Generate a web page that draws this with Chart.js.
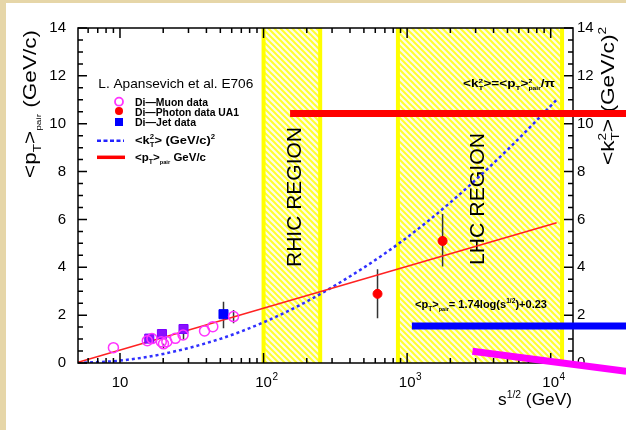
<!DOCTYPE html>
<html>
<head>
<meta charset="utf-8">
<script src="https://cdn.jsdelivr.net/npm/chart.js@4.4.1/dist/chart.umd.min.js"></script>
<style>
    html, body { margin: 0; padding: 0; background: #fff; }
    body { width: 626px; height: 430px; overflow: hidden; position: relative; }
    #ptChart { position: absolute; left: 0; top: 0; }
    .edge { position: absolute; background: #e6d6a8; }
    .edge.top { left: 0; top: 0; width: 626px; height: 3px; }
    .edge.left { left: 0; top: 0; width: 6px; height: 430px; }
</style>
</head>
<body>
<canvas id="ptChart" width="626" height="430"></canvas>
<div class="edge top"></div>
<div class="edge left"></div>
<script>
// Di-muon measurements: sqrt(s) in GeV and <pT> pair in GeV/c
const muonS = [9.0, 15.5, 16.7, 19.4, 20.1, 21.2, 24.3, 27.5, 38.8, 44.3, 61.8];
const muonPt = [0.64, 0.93, 1.02, 0.89, 0.80, 0.89, 1.03, 1.17, 1.34, 1.52, 1.94];
const muonErrLo = [null, null, null, null, 0.58, null, null, null, null, null, 1.66];
const muonErrHi = [null, null, null, null, 0.80, null, null, null, null, null, 2.22];

// Di-photon (UA1)
const photonS = [622, 1766];
const photonPt = [2.89, 5.10];
const photonErrLo = [1.87, 4.03];
const photonErrHi = [3.92, 6.23];

// Di-jet
const jetS = [16.0, 19.6, 27.7, 52.6];
const jetPt = [1.02, 1.21, 1.42, 2.04];
const jetErrLo = [0.90, 0.95, 0.98, 1.45];
const jetErrHi = [1.12, 1.32, 1.60, 2.56];

// <pT> pair fit line (straight in log s)
const fitS = [5.1, 11000];
const fitPt = [0.03, 5.86];

// <kT^2> curve, right axis
const kt2S = [5.1, 10, 20, 50, 100, 200, 500, 1000, 2000, 5000, 11000];
const kt2 = [0.0, 0.10, 0.38, 1.01, 1.70, 2.57, 3.99, 5.25, 6.71, 8.91, 11.0];

// collider energy ranges
const rhicRange = [100, 248];
const lhcRange = [863, 12000];

// x tick labels: 10^n
const xTickValues = [10, 100, 1000, 10000];
const xTickExps = ['', '2', '3', '4'];

// marker strokes laid over the figure
const redMarkS = [153, 40000], redMarkY = [10.43, 10.43];
const blueMarkS = [1079, 40000], blueMarkY = [1.55, 1.55];
const pinkMarkS = [2851, 33570], pinkMarkY = [0.49, -0.35];

const FONT = '"Liberation Sans", Arial, Helvetica, sans-serif';

const pts = (xs, ys) => xs.map((v, i) => ({ x: v, y: ys[i] }));

// text with sub/superscripts, optionally stretched to a given length
function drawRich(ctx, parts, o) {
    const font = (s) => `${o.weight || 'normal'} ${s}px ${FONT}`;
    const segs = [];
    let w = 0;
    parts.forEach(p => {
        if (typeof p === 'string') p = { t: p };
        const list = p.stack
            ? [{ t: p.stack[0], k: 'sup', sc: p.sc }, { t: p.stack[1], k: 'sub', sc: p.sc }]
            : [p];
        let adv = 0;
        list.forEach(q => {
            const s = q.k ? o.size * (q.sc || 0.6) : o.size;
            ctx.font = font(s);
            const dy = q.k === 'sup' ? -0.42 * o.size : q.k === 'sub' ? 0.28 * o.size : 0;
            segs.push({ t: q.t, s: s, x: w, dy: dy });
            adv = Math.max(adv, ctx.measureText(q.t).width);
        });
        w += adv;
    });
    const sx = o.len ? o.len / w : 1;
    ctx.save();
    ctx.translate(o.x, o.y);
    if (o.rot) ctx.rotate(o.rot);
    ctx.scale(sx, 1);
    ctx.fillStyle = o.color || '#000';
    ctx.textAlign = 'left';
    ctx.textBaseline = 'alphabetic';
    segs.forEach(g => { ctx.font = font(g.s); ctx.fillText(g.t, g.x, g.dy); });
    ctx.restore();
}

function hatch(ctx) {
    const c = document.createElement('canvas');
    c.width = 6; c.height = 6;
    const g = c.getContext('2d');
    g.fillStyle = '#fffde8';
    g.fillRect(0, 0, 6, 6);
    g.strokeStyle = '#ffff30';
    g.lineWidth = 2;
    g.beginPath();
    g.moveTo(-1, -1); g.lineTo(7, 7);
    g.moveTo(-4, 2); g.lineTo(4, 10);
    g.moveTo(2, -4); g.lineTo(10, 4);
    g.stroke();
    return ctx.createPattern(c, 'repeat');
}

const regionsPlugin = {
    id: 'regions',
    beforeDatasetsDraw(chart) {
        const { ctx, chartArea: a, scales: { x } } = chart;
        const pat = hatch(ctx);
        ctx.save();
        [rhicRange, lhcRange].forEach(r => {
            const x0 = x.getPixelForValue(r[0]);
            const x1 = x.getPixelForValue(r[1]);
            ctx.fillStyle = pat;
            ctx.fillRect(x0, a.top, x1 - x0, a.bottom - a.top);
            ctx.strokeStyle = '#ffff00';
            ctx.lineWidth = 4;
            ctx.beginPath();
            ctx.moveTo(x0, a.top); ctx.lineTo(x0, a.bottom);
            ctx.moveTo(x1, a.top); ctx.lineTo(x1, a.bottom);
            ctx.stroke();
        });
        ctx.restore();

        drawRich(ctx, ['RHIC REGION'], { x: 301, y: 267, size: 21, len: 140, rot: -Math.PI / 2 });
        drawRich(ctx, ['LHC REGION'], { x: 484, y: 265, size: 21, len: 132, rot: -Math.PI / 2 });

        drawRich(ctx, ['<k', { stack: ['2', 'T'] }, '>=<p', { t: 'T', k: 'sub' }, '>',
            { stack: ['2', 'pair'], sc: 0.5 }, '/\u03c0'],
            { x: 463, y: 87, size: 10, weight: 'bold', len: 92 });
        drawRich(ctx, ['<p', { t: 'T', k: 'sub' }, '>', { t: 'pair', k: 'sub', sc: 0.5 },
            '= 1.74log(s', { t: '1/2', k: 'sup' }, ')+0.23'],
            { x: 415, y: 308, size: 11, weight: 'bold', len: 132 });

        // error bars
        const yS = chart.scales.y;
        ctx.save();
        ctx.strokeStyle = '#333';
        ctx.lineWidth = 1.5;
        ctx.beginPath();
        const bars = (xs, lo, hi) => xs.forEach((s, i) => {
            if (lo[i] == null) return;
            const px = x.getPixelForValue(s);
            ctx.moveTo(px, yS.getPixelForValue(lo[i]));
            ctx.lineTo(px, yS.getPixelForValue(hi[i]));
        });
        bars(muonS, muonErrLo, muonErrHi);
        bars(photonS, photonErrLo, photonErrHi);
        bars(jetS, jetErrLo, jetErrHi);
        ctx.stroke();
        ctx.restore();
    },
    afterDatasetsDraw(chart) {
        const { ctx, chartArea: a, scales: { x, y } } = chart;
        ctx.save();
        ctx.strokeStyle = '#000';
        ctx.lineWidth = 1.5;
        ctx.beginPath();
        for (let v = 0; v <= 14.001; v += 0.5) {
            const py = y.getPixelForValue(v);
            const len = v % 2 === 0 ? 9 : 5;
            ctx.moveTo(a.left, py); ctx.lineTo(a.left + len, py);
            ctx.moveTo(a.right, py); ctx.lineTo(a.right - len, py);
        }
        for (let e = 0; e <= 4; e++) {
            for (let m = 1; m <= 9; m++) {
                const v = m * Math.pow(10, e);
                if (v < x.min || v > x.max) continue;
                const px = x.getPixelForValue(v);
                const len = m === 1 ? 10 : 5;
                ctx.moveTo(px, a.bottom); ctx.lineTo(px, a.bottom - len);
                ctx.moveTo(px, a.top); ctx.lineTo(px, a.top + len);
            }
        }
        ctx.stroke();
        ctx.strokeRect(a.left, a.top, a.right - a.left, a.bottom - a.top);

        // x tick labels 10, 10^2, ...
        ctx.fillStyle = '#000';
        ctx.textBaseline = 'alphabetic';
        xTickValues.forEach((v, i) => {
            const px = x.getPixelForValue(v);
            ctx.font = `15px ${FONT}`;
            const w = ctx.measureText('10').width;
            ctx.fillText('10', px - w / 2, a.bottom + 24);
            if (xTickExps[i]) {
                ctx.font = `10px ${FONT}`;
                ctx.fillText(xTickExps[i], px + w / 2 + 0.5, a.bottom + 17);
            }
        });

        // legend
        drawRich(ctx, ['L. Apansevich et al. E706'], { x: 98.3, y: 88.3, size: 13.5, len: 155 });
        ctx.lineWidth = 1.8;
        ctx.strokeStyle = '#ff33ff';
        ctx.beginPath(); ctx.arc(119, 101.7, 4, 0, Math.PI * 2); ctx.stroke();
        ctx.fillStyle = '#ff0000';
        ctx.beginPath(); ctx.arc(119, 111, 4, 0, Math.PI * 2); ctx.fill();
        ctx.fillStyle = '#0000ff';
        ctx.fillRect(115, 118, 8, 8);
        ctx.strokeStyle = '#2222ff';
        ctx.lineWidth = 2.5;
        ctx.setLineDash([4, 2.5]);
        ctx.beginPath(); ctx.moveTo(97, 140.7); ctx.lineTo(124, 140.7); ctx.stroke();
        ctx.setLineDash([]);
        ctx.strokeStyle = '#ff0000';
        ctx.lineWidth = 3.5;
        ctx.beginPath(); ctx.moveTo(97, 157.3); ctx.lineTo(125, 157.3); ctx.stroke();
        ctx.restore();

        const lg = { size: 11, weight: 'bold' };
        drawRich(ctx, ['Di\u2014Muon data'], { ...lg, x: 135, y: 105.5, len: 73 });
        drawRich(ctx, ['Di\u2014Photon data UA1'], { ...lg, x: 135, y: 115.5, len: 104 });
        drawRich(ctx, ['Di\u2014Jet data'], { ...lg, x: 135, y: 126, len: 61 });
        drawRich(ctx, ['<k', { stack: ['2', 'T'] }, '> (GeV/c)', { t: '2', k: 'sup' }],
            { ...lg, x: 135, y: 144, len: 80 });
        drawRich(ctx, ['<p', { t: 'T', k: 'sub' }, '>', { t: 'pair', k: 'sub', sc: 0.5 }, ' GeV/c'],
            { ...lg, x: 135, y: 161, len: 71 });

        // axis titles
        drawRich(ctx, ['<p', { t: 'T', k: 'sub' }, '>', { t: 'pair', k: 'sub', sc: 0.45 }, ' (GeV/c)'],
            { x: 36, y: 178, size: 18, len: 148, rot: -Math.PI / 2 });
        drawRich(ctx, ['<k', { stack: ['2', 'T'] }, '> (GeV/c)', { t: '2', k: 'sup' }],
            { x: 614, y: 165, size: 18, len: 138, rot: -Math.PI / 2 });
        drawRich(ctx, ['s', { t: '1/2', k: 'sup' }, ' (GeV)'],
            { x: 498, y: 405, size: 17, len: 74 });
    },
    afterDraw(chart) {
        const { ctx, scales: { x, y } } = chart;
        ctx.save();
        ctx.lineWidth = 7;
        ctx.lineCap = 'butt';
        [[redMarkS, redMarkY, '#ff0000'], [blueMarkS, blueMarkY, '#0000ff'], [pinkMarkS, pinkMarkY, '#ff00ff']]
            .forEach(([xs, ys, col]) => {
                ctx.strokeStyle = col;
                ctx.beginPath();
                ctx.moveTo(x.getPixelForValue(xs[0]), y.getPixelForValue(ys[0]));
                ctx.lineTo(x.getPixelForValue(xs[1]), y.getPixelForValue(ys[1]));
                ctx.stroke();
            });
        ctx.restore();
    }
};

const tickFont = { family: FONT, size: 15 };

new Chart(document.getElementById('ptChart').getContext('2d'), {
    type: 'scatter',
    data: {
        datasets: [{
            label: 'Di-Muon data',
            data: pts(muonS, muonPt),
            pointStyle: 'circle',
            pointRadius: 5,
            pointBorderWidth: 1.5,
            pointBorderColor: '#ff33ff',
            pointBackgroundColor: 'rgba(255,255,255,0)',
            order: 1
        }, {
            label: 'Di-Photon data UA1',
            data: pts(photonS, photonPt),
            pointStyle: 'circle',
            pointRadius: 4.5,
            pointBorderWidth: 1,
            pointBorderColor: '#ff0000',
            pointBackgroundColor: '#ff0000',
            order: 2
        }, {
            label: 'Di-Jet data',
            data: pts(jetS, jetPt),
            pointStyle: 'rect',
            pointRadius: 6.4,
            pointBorderWidth: 1,
            pointBorderColor: ['#7a00ff', '#7a00ff', '#7a00ff', '#0000ff'],
            pointBackgroundColor: ['#8a10ff', '#8a10ff', '#8a10ff', '#0000ff'],
            order: 3
        }, {
            label: '<pT> pair',
            data: pts(fitS, fitPt),
            showLine: true,
            pointRadius: 0,
            borderColor: '#ff2222',
            borderWidth: 1.6,
            order: 4
        }, {
            label: '<kT^2>',
            data: pts(kt2S, kt2),
            yAxisID: 'y2',
            showLine: true,
            pointRadius: 0,
            borderColor: '#3030ff',
            borderWidth: 2.5,
            borderDash: [3, 3],
            cubicInterpolationMode: 'monotone',
            order: 5
        }]
    },
    options: {
        responsive: false,
        devicePixelRatio: 1,
        animation: false,
        layout: { padding: { top: 28, left: 0, right: 0, bottom: 0 } },
        scales: {
            x: {
                type: 'logarithmic',
                min: 5.1,
                max: 14300,
                grid: { display: false, drawTicks: false },
                border: { display: false },
                ticks: { display: false },
                afterFit: s => { s.height = 67; }
            },
            y: {
                position: 'left',
                min: 0,
                max: 14,
                grid: { display: false, drawTicks: false },
                border: { display: false },
                ticks: { stepSize: 2, padding: 12, color: '#000', font: tickFont },
                afterFit: s => { s.width = 78; }
            },
            y2: {
                position: 'right',
                min: 0,
                max: 14,
                grid: { display: false, drawTicks: false },
                border: { display: false },
                ticks: { stepSize: 2, padding: 4, color: '#000', font: tickFont },
                afterFit: s => { s.width = 53; }
            }
        },
        plugins: {
            legend: { display: false },
            tooltip: { enabled: false }
        }
    },
    plugins: [regionsPlugin]
});
</script>
</body>
</html>
